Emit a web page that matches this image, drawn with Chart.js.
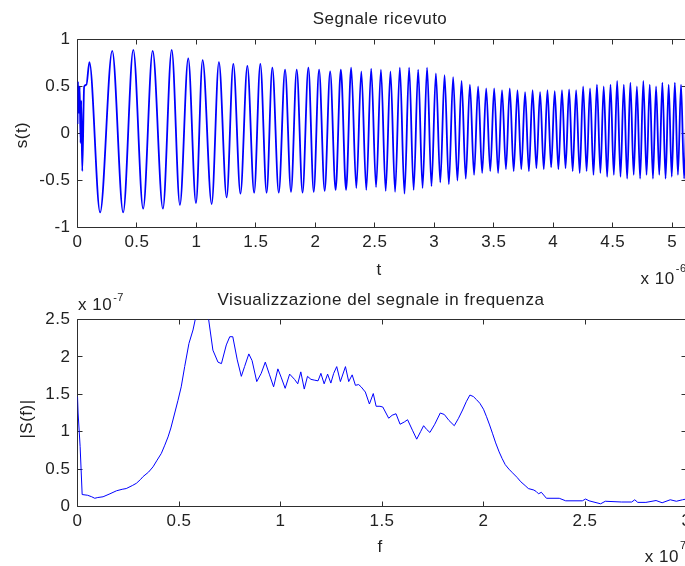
<!DOCTYPE html>
<html>
<head>
<meta charset="utf-8">
<script src="https://cdn.jsdelivr.net/npm/chart.js@4.4.1/dist/chart.umd.min.js"></script>
<style>
  html, body { margin: 0; padding: 0; background: #fff; overflow: hidden; width: 685px; height: 566px; }
  canvas { position: absolute; left: 0; top: 0; }
</style>
</head>
<body>
<canvas id="graficoTempo" width="700" height="566" style="width:700px;height:566px"></canvas>
<canvas id="graficoFreq" width="700" height="566" style="width:700px;height:566px"></canvas>
<script>
// Segnale ricevuto: istanti (in microsecondi) e ampiezze dei massimi/minimi
const tSegnale = [
  0.000,0.004,0.012,0.018,0.026,0.031,0.040,0.056,0.075,0.100,
  0.190,0.292,0.384,0.469,0.552,0.632,0.718,0.792,0.861,0.931,
  0.996,1.052,1.128,1.189,1.254,1.310,1.370,1.428,1.485,1.537,
  1.590,1.638,1.692,1.745,1.795,1.843,1.892,1.941,1.986,2.031,
  2.078,2.124,2.170,2.214,2.258,2.301,2.344,2.386,2.428,2.469,
  2.510,2.551,2.591,2.631,2.670,2.710,2.749,2.788,2.826,2.864,
  2.901,2.939,2.976,3.013,3.050,3.086,3.122,3.158,3.194,3.229,
  3.264,3.299,3.334,3.368,3.402,3.436,3.470,3.503,3.536,3.569,
  3.602,3.634,3.667,3.699,3.731,3.763,3.795,3.826,3.858,3.889,
  3.920,3.951,3.982,4.012,4.043,4.073,4.103,4.133,4.163,4.192,
  4.222,4.251,4.280,4.309,4.338,4.367,4.396,4.424,4.453,4.481,
  4.509,4.537,4.565,4.593,4.621,4.648,4.676,4.703,4.730,4.757,
  4.784,4.811,4.838,4.864,4.891,4.917,4.944,4.970,4.996,5.022,
  5.048,5.074,5.100,5.120
];
const sSegnale = [
  0.10,0.55,0.22,0.50,-0.10,0.35,-0.40,0.50,0.52,0.76,
  -0.84,0.88,-0.84,0.89,-0.80,0.88,-0.80,0.89,-0.76,0.80,
  -0.74,0.78,-0.75,0.76,-0.68,0.74,-0.64,0.72,-0.63,0.74,
  -0.63,0.70,-0.63,0.68,-0.62,0.68,-0.63,0.70,-0.62,0.68,
  -0.61,0.66,-0.60,0.68,-0.60,0.70,-0.58,0.66,-0.60,0.69,
  -0.57,0.68,-0.61,0.66,-0.62,0.70,-0.64,0.70,-0.60,0.68,
  -0.58,0.70,-0.56,0.64,-0.52,0.62,-0.54,0.60,-0.50,0.56,
  -0.48,0.52,-0.44,0.50,-0.42,0.48,-0.40,0.48,-0.42,0.46,
  -0.38,0.48,-0.40,0.46,-0.38,0.44,-0.40,0.46,-0.37,0.44,
  -0.38,0.46,-0.36,0.45,-0.38,0.46,-0.37,0.47,-0.40,0.46,
  -0.42,0.50,-0.40,0.48,-0.44,0.52,-0.42,0.50,-0.46,0.52,
  -0.44,0.56,-0.46,0.52,-0.48,0.54,-0.44,0.50,-0.48,0.56,
  -0.44,0.52,-0.48,0.50,-0.44,0.54,-0.48,0.52,-0.46,0.54,
  -0.44,0.52,-0.48,0.30
];

// Modulo dello spettro: frequenze (x 10^7 Hz) e |S(f)| (x 10^-7)
const fFreq = [
  0.000,0.003,0.013,0.023,0.050,0.070,0.085,0.100,0.126,0.160,
  0.192,0.220,0.240,0.270,0.290,0.310,0.323,0.350,0.372,0.390,
  0.413,0.430,0.446,0.460,0.479,0.495,0.511,0.528,0.549,0.569,
  0.580,0.600,0.620,0.635,0.646,0.667,0.692,0.709,0.733,0.750,
  0.765,0.787,0.807,0.823,0.844,0.860,0.883,0.905,0.925,0.946,
  0.966,0.987,1.003,1.023,1.045,1.069,1.085,1.100,1.117,1.133,
  1.150,1.166,1.185,1.199,1.215,1.232,1.248,1.262,1.277,1.295,
  1.320,1.336,1.353,1.369,1.385,1.397,1.418,1.438,1.457,1.471,
  1.490,1.504,1.533,1.550,1.569,1.589,1.610,1.626,1.650,1.671,
  1.690,1.705,1.720,1.736,1.760,1.787,1.807,1.830,1.856,1.877,
  1.897,1.915,1.933,1.950,1.965,1.982,2.000,2.015,2.030,2.044,
  2.060,2.077,2.092,2.107,2.125,2.143,2.165,2.184,2.205,2.221,
  2.248,2.260,2.271,2.285,2.310,2.373,2.405,2.487,2.503,2.520,
  2.577,2.600,2.680,2.730,2.745,2.760,2.800,2.850,2.880,2.920,
  2.950,2.980,3.000
];
const modS = [
  1.47,1.25,0.80,0.16,0.15,0.13,0.11,0.12,0.13,0.17,
  0.21,0.23,0.24,0.28,0.31,0.36,0.40,0.46,0.53,0.61,
  0.71,0.82,0.93,1.05,1.25,1.42,1.60,1.87,2.18,2.36,
  2.50,2.62,2.65,2.58,2.50,2.09,1.93,1.91,2.16,2.27,
  2.27,1.96,1.74,1.87,2.04,1.95,1.67,1.78,1.93,1.76,
  1.60,1.84,1.73,1.58,1.77,1.70,1.64,1.80,1.57,1.74,
  1.70,1.69,1.68,1.78,1.64,1.77,1.65,1.78,1.87,1.67,
  1.87,1.67,1.76,1.62,1.63,1.60,1.53,1.37,1.51,1.34,
  1.34,1.33,1.18,1.22,1.24,1.10,1.13,1.16,1.02,0.90,
  1.00,1.08,1.03,0.99,1.10,1.25,1.23,1.15,1.08,1.18,
  1.29,1.40,1.49,1.47,1.43,1.38,1.30,1.20,1.09,0.98,
  0.85,0.73,0.64,0.56,0.50,0.45,0.39,0.33,0.28,0.24,
  0.22,0.20,0.17,0.19,0.11,0.11,0.076,0.076,0.10,0.076,
  0.036,0.07,0.06,0.06,0.09,0.055,0.055,0.08,0.05,0.09,
  0.07,0.09,0.10
];

// Tacche degli assi
const tickT = [0, 0.5, 1, 1.5, 2, 2.5, 3, 3.5, 4, 4.5, 5];
const etichetteT = ['0','0.5','1','1.5','2','2.5','3','3.5','4','4.5','5'];
const tickS = [-1, -0.5, 0, 0.5, 1];
const etichetteS = ['-1','-0.5','0','0.5','1'];
const tickF = [0, 0.5, 1, 1.5, 2, 2.5, 3];
const etichetteF = ['0','0.5','1','1.5','2','2.5','3'];
const tickModulo = [0, 0.5, 1, 1.5, 2, 2.5];
const etichetteModulo = ['0','0.5','1','1.5','2','2.5'];

const FONT = '"Liberation Sans", Arial, sans-serif';
const COL_TESTO = '#222222';
const COL_ASSI = '#2e2e2e';
const BLU = '#0000ff';

function scritta(ctx, s, x, y, size, align, baseline, rot) {
  ctx.save();
  ctx.font = size + 'px ' + FONT;
  ctx.fillStyle = COL_TESTO;
  ctx.textAlign = align || 'center';
  ctx.textBaseline = baseline || 'alphabetic';
  ctx.translate(x, y);
  if (rot) ctx.rotate(rot);
  ctx.fillText(s, 0, 0);
  ctx.restore();
}

// "x 10^e" con l'esponente in apice; ancoraggio a sinistra o a destra
function esponente(ctx, exp, x, y, yApice, allinea) {
  ctx.save();
  ctx.font = '17px ' + FONT;
  const wBase = ctx.measureText('x 10').width;
  ctx.font = '11px ' + FONT;
  const wExp = ctx.measureText(exp).width;
  ctx.restore();
  const x0 = allinea === 'right' ? x - wBase - 1 - wExp : x;
  scritta(ctx, 'x 10', x0, y, 17, 'left');
  scritta(ctx, exp, x0 + wBase + 1, yApice, 11, 'left');
}

// Cornice dell'asse con tacche rivolte verso l'interno
function cornice(valX, valY) {
  return {
    id: 'cornice',
    beforeDraw(chart) { chart.ctx.letterSpacing = '0.5px'; },
    beforeDatasetsDraw(chart) {
      const { ctx, chartArea: a, scales: { x, y } } = chart;
      ctx.save();
      ctx.strokeStyle = COL_ASSI;
      ctx.lineWidth = 1;
      ctx.beginPath();
      ctx.rect(a.left, a.top, a.right - a.left, a.bottom - a.top);
      const L = 5;
      valX.forEach(v => {
        const px = Math.round(x.getPixelForValue(v) - 0.5) + 0.5;
        ctx.moveTo(px, a.bottom); ctx.lineTo(px, a.bottom - L);
        ctx.moveTo(px, a.top); ctx.lineTo(px, a.top + L);
      });
      valY.forEach(v => {
        const py = Math.round(y.getPixelForValue(v) - 0.5) + 0.5;
        ctx.moveTo(a.left, py); ctx.lineTo(a.left + L, py);
        ctx.moveTo(a.right, py); ctx.lineTo(a.right - L, py);
      });
      ctx.stroke();
      ctx.restore();
    }
  };
}

function scalaX(min, max, valori, etichette, altezza) {
  return {
    type: 'linear', min, max,
    grid: { display: false, drawTicks: false },
    border: { display: false },
    afterFit(s) { s.height = altezza; },
    afterBuildTicks(s) { s.ticks = valori.map(v => ({ value: v })); },
    ticks: {
      padding: 5, autoSkip: false, maxRotation: 0, color: COL_TESTO,
      font: { family: FONT, size: 17 },
      callback: (v, i) => etichette[i]
    }
  };
}
function scalaY(min, max, valori, etichette) {
  return {
    type: 'linear', min, max,
    grid: { display: false, drawTicks: false },
    border: { display: false },
    afterFit(s) { s.width = 77.5; },
    afterBuildTicks(s) { s.ticks = valori.map(v => ({ value: v })); },
    ticks: {
      padding: 7, autoSkip: false, color: COL_TESTO,
      font: { family: FONT, size: 17 },
      callback: (v, i) => etichette[i]
    }
  };
}

const base = {
  responsive: false, animation: false, devicePixelRatio: 1,
  plugins: { legend: { display: false }, tooltip: { enabled: false }, title: { display: false } },
  events: []
};

// Grafico superiore: segnale nel tempo
new Chart(document.getElementById('graficoTempo'), {
  type: 'line',
  data: {
    datasets: [{
      data: tSegnale.map((t, i) => ({ x: t, y: sSegnale[i] })),
      borderColor: BLU, borderWidth: 1.8, pointRadius: 0,
      cubicInterpolationMode: 'monotone', fill: false
    }]
  },
  options: Object.assign({}, base, {
    layout: { padding: { top: 39.5, left: 0, right: 13.5, bottom: 0 } },
    scales: {
      x: scalaX(0, 5.12, tickT, etichetteT, 566 - 227.5),
      y: scalaY(-1, 1, tickS, etichetteS)
    }
  }),
  plugins: [cornice(tickT, tickS), {
    id: 'testiTempo',
    afterDraw(chart) {
      const { ctx, chartArea: a } = chart;
      const cx = (a.left + a.right) / 2 - 2;
      scritta(ctx, 'Segnale ricevuto', cx, 24, 17);
      scritta(ctx, 't', cx - 1, 275, 17);
      scritta(ctx, 's(t)', 22, 135, 17, 'center', 'middle', -Math.PI / 2);
      esponente(ctx, '-6', a.right, 283.5, 272, 'right');
    }
  }]
});

// Grafico inferiore: modulo dello spettro
new Chart(document.getElementById('graficoFreq'), {
  type: 'line',
  data: {
    datasets: [{
      data: fFreq.map((f, i) => ({ x: f, y: modS[i] })),
      borderColor: BLU, borderWidth: 1, pointRadius: 0, tension: 0, fill: false
    }]
  },
  options: Object.assign({}, base, {
    layout: { padding: { top: 319.5, left: 0, right: 13.5, bottom: 0 } },
    scales: {
      x: scalaX(0, 3, tickF, etichetteF, 566 - 506.5),
      y: scalaY(0, 2.5, tickModulo, etichetteModulo)
    }
  }),
  plugins: [cornice(tickF, tickModulo), {
    id: 'testiFreq',
    afterDraw(chart) {
      const { ctx, chartArea: a } = chart;
      const cx = (a.left + a.right) / 2 - 1;
      scritta(ctx, 'Visualizzazione del segnale in frequenza', cx, 305, 17);
      scritta(ctx, 'f', cx - 1, 552, 17);
      scritta(ctx, '|S(f)|', 27, 419, 17, 'center', 'middle', -Math.PI / 2);
      esponente(ctx, '-7', 78, 310, 301, 'left');
      esponente(ctx, '7', a.right, 561.5, 549, 'right');
    }
  }]
});
</script>
</body>
</html>
